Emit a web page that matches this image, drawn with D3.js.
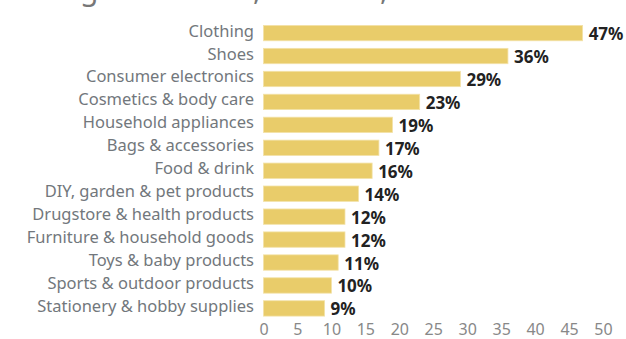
<!DOCTYPE html>
<html><head><meta charset="utf-8">
<script src="https://cdn.jsdelivr.net/npm/d3@7"></script>
<style>
html,body{margin:0;padding:0;background:#fff;overflow:hidden}
svg{display:block}
</style></head>
<body>
<svg id="chart" width="626" height="339"></svg>
<script>
const categories = ["Clothing","Shoes","Consumer electronics","Cosmetics & body care","Household appliances","Bags & accessories","Food & drink","DIY, garden & pet products","Drugstore & health products","Furniture & household goods","Toys & baby products","Sports & outdoor products","Stationery & hobby supplies"];
const values = [47,36,29,23,19,17,16,14,12,12,11,10,9];
const tickValues = [0,5,10,15,20,25,30,35,40,45,50];
const titleText = "Leading sales 2023, share %, online";

const svg = d3.select("#chart");
const font = "'Noto Sans',sans-serif";

const x = d3.scaleLinear().domain([0,50]).range([263.5,603]);
const y = d3.scaleBand().domain(categories).range([21.5,320]).paddingInner(0.33).paddingOuter(0.17);

// title: only the lowest part of it lies inside the picture
const titleSize = 30;
const probe = svg.append("text").attr("font-family",font).attr("font-size",titleSize)
  .attr("y",-100).text(titleText.slice(0, titleText.indexOf("g")));
const pre = probe.node().getComputedTextLength();
probe.remove();
svg.append("text").attr("x",80 - pre).attr("y",0)
  .attr("font-family",font).attr("font-size",titleSize).attr("fill","#777")
  .text(titleText);

svg.append("g").selectAll("rect").data(values).join("rect")
  .attr("x",x(0)).attr("y",(d,i)=>y(categories[i]))
  .attr("width",d=>x(d)-x(0)).attr("height",y.bandwidth())
  .attr("fill","#e9cc6a").attr("stroke","#f3e2a8").attr("stroke-width",0.8);

svg.append("g").selectAll("text").data(categories).join("text")
  .attr("x",254).attr("y",d=>y(d)+y.bandwidth()/2+3.5)
  .attr("text-anchor","end").attr("font-family",font).attr("font-size",16.5)
  .attr("fill","#72777c").text(d=>d);

svg.append("g").selectAll("text").data(values).join("text")
  .attr("x",d=>x(d)+6).attr("y",(d,i)=>y(categories[i])+y.bandwidth()/2+7)
  .attr("font-family",font).attr("font-size",17).attr("font-weight","bold")
  .attr("fill","#222").text(d=>d+"%");

const ax = svg.append("g").attr("transform","translate(0,334.5)")
  .call(d3.axisBottom(x).tickValues(tickValues).tickSize(0).tickPadding(0));
ax.select(".domain").remove();
ax.selectAll("text").attr("y",0).attr("dy",0)
  .attr("font-family",font).attr("font-size",16).attr("fill","#888");
</script>
</body></html>
